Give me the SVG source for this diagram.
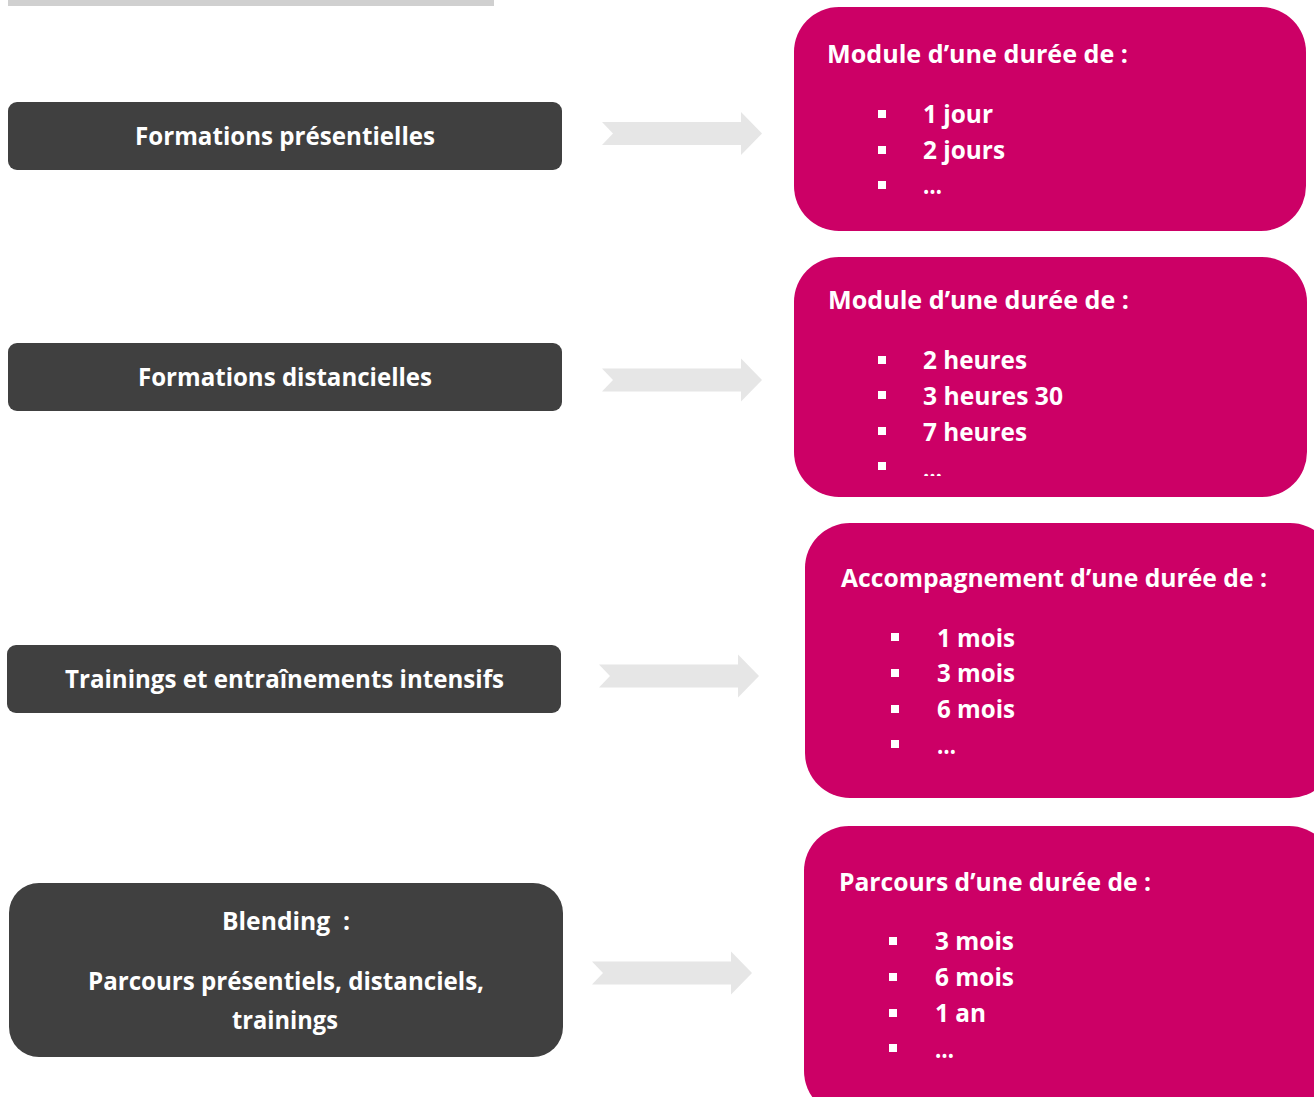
<svg xmlns="http://www.w3.org/2000/svg" width="1314" height="1097" viewBox="0 0 1314 1097">
<defs>
<style>
.dark{fill:#404040}
.pink{fill:#cc0066}
.arrow{fill:#e6e6e6}
text{font-family:"Open Sans","Noto Sans","Liberation Sans",sans-serif;font-weight:700;font-size:25px;fill:#ffffff}
.c{text-anchor:middle}
.pre{white-space:pre}
.b{fill:#ffffff}
</style>
<path id="arr" d="M0,-11.5 L139,-11.5 L139,-21.5 L160,0 L139,21.5 L139,11.5 L0,11.5 L11,0 Z"/>
<clipPath id="clip2b"><rect x="794" y="257" width="513" height="219"/></clipPath>
</defs>
<rect width="1314" height="1097" fill="#ffffff"/>
<rect x="8" y="0" width="486" height="6" fill="#d0d0d0"/>

<g id="connectors">
<use href="#arr" class="arrow" transform="translate(602,133.5)"/>
<use href="#arr" class="arrow" transform="translate(602,380)"/>
<use href="#arr" class="arrow" transform="translate(599,676)"/>
<use href="#arr" class="arrow" transform="translate(592,973)"/>
</g>

<g id="left1">
<rect class="dark" x="8" y="102" width="554" height="68" rx="9"/>
<text class="c" x="285" y="145" textLength="300" lengthAdjust="spacingAndGlyphs">Formations présentielles</text>
</g>
<g id="left2">
<rect class="dark" x="8" y="343" width="554" height="68" rx="9"/>
<text class="c" x="285" y="386" textLength="294" lengthAdjust="spacingAndGlyphs">Formations distancielles</text>
</g>
<g id="left3">
<rect class="dark" x="7" y="645" width="554" height="68" rx="9"/>
<text class="c" x="284.5" y="688" textLength="439" lengthAdjust="spacingAndGlyphs">Trainings et entraînements intensifs</text>
</g>
<g id="left4">
<rect class="dark" x="9" y="883" width="554" height="174" rx="30"/>
<text class="c pre" x="286" y="930" textLength="128" lengthAdjust="spacingAndGlyphs" xml:space="preserve">Blending  :</text>
<text class="c" x="286" y="990" textLength="396" lengthAdjust="spacingAndGlyphs">Parcours présentiels, distanciels,</text>
<text class="c" x="285" y="1029" textLength="106" lengthAdjust="spacingAndGlyphs">trainings</text>
</g>

<g id="right1">
<rect class="pink" x="794" y="7" width="512" height="224" rx="45"/>
<text x="827" y="63" textLength="301" lengthAdjust="spacingAndGlyphs">Module d’une durée de :</text>
<rect class="b" x="878" y="110" width="8" height="8"/>
<rect class="b" x="878" y="146" width="8" height="8"/>
<rect class="b" x="878" y="181" width="8" height="8"/>
<text x="923" y="123" textLength="70" lengthAdjust="spacingAndGlyphs">1 jour</text>
<text x="923" y="159" textLength="82" lengthAdjust="spacingAndGlyphs">2 jours</text>
<text x="923" y="194" textLength="19" lengthAdjust="spacingAndGlyphs">…</text>
</g>

<g id="right2">
<rect class="pink" x="794" y="257" width="513" height="240" rx="45"/>
<text x="828" y="309" textLength="301" lengthAdjust="spacingAndGlyphs">Module d’une durée de :</text>
<rect class="b" x="878" y="356" width="8" height="8"/>
<rect class="b" x="878" y="391" width="8" height="8"/>
<rect class="b" x="878" y="427" width="8" height="8"/>
<rect class="b" x="878" y="462" width="8" height="8"/>
<text x="923" y="369" textLength="104" lengthAdjust="spacingAndGlyphs">2 heures</text>
<text x="923" y="405" textLength="140" lengthAdjust="spacingAndGlyphs">3 heures 30</text>
<text x="923" y="441" textLength="104" lengthAdjust="spacingAndGlyphs">7 heures</text>
<text x="923" y="478" textLength="19" lengthAdjust="spacingAndGlyphs" clip-path="url(#clip2b)">…</text>
</g>

<g id="right3">
<rect class="pink" x="805" y="523" width="530" height="275" rx="45"/>
<text x="841" y="587" textLength="426" lengthAdjust="spacingAndGlyphs">Accompagnement d’une durée de :</text>
<rect class="b" x="891" y="633" width="8" height="8"/>
<rect class="b" x="891" y="669" width="8" height="8"/>
<rect class="b" x="891" y="705" width="8" height="8"/>
<rect class="b" x="891" y="740" width="8" height="8"/>
<text x="937" y="647" textLength="78" lengthAdjust="spacingAndGlyphs">1 mois</text>
<text x="937" y="682" textLength="78" lengthAdjust="spacingAndGlyphs">3 mois</text>
<text x="937" y="718" textLength="78" lengthAdjust="spacingAndGlyphs">6 mois</text>
<text x="937" y="754" textLength="19" lengthAdjust="spacingAndGlyphs">…</text>
</g>

<g id="right4">
<rect class="pink" x="804" y="826" width="530" height="290" rx="45"/>
<text x="839" y="891" textLength="312" lengthAdjust="spacingAndGlyphs">Parcours d’une durée de :</text>
<rect class="b" x="889" y="937" width="8" height="8"/>
<rect class="b" x="889" y="973" width="8" height="8"/>
<rect class="b" x="889" y="1009" width="8" height="8"/>
<rect class="b" x="889" y="1044" width="8" height="8"/>
<text x="935" y="950" textLength="79" lengthAdjust="spacingAndGlyphs">3 mois</text>
<text x="935" y="986" textLength="79" lengthAdjust="spacingAndGlyphs">6 mois</text>
<text x="935" y="1022" textLength="51" lengthAdjust="spacingAndGlyphs">1 an</text>
<text x="935" y="1058" textLength="19" lengthAdjust="spacingAndGlyphs">…</text>
</g>
</svg>
